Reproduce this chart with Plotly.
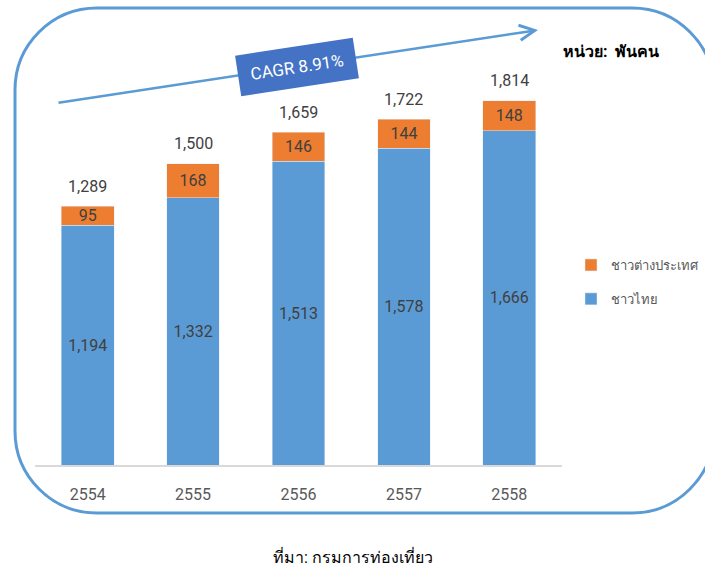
import plotly.graph_objects as go

years = ["2554", "2555", "2556", "2557", "2558"]
thai = [1194, 1332, 1513, 1578, 1666]
foreign = [95, 168, 146, 144, 148]
totals = [1289, 1500, 1659, 1722, 1814]

W, H = 705, 570
L, R, T, B = 35, 143, 40, 105
pw, ph = W - L - R, H - T - B

def px(x):
    return (x - L) / pw

def py(y):
    return (H - B - y) / ph

BLUE = "#5B9BD5"
ORANGE = "#ED7D31"
FONT = "Roboto, Noto Sans, sans-serif"

fig = go.Figure()
fig.add_trace(go.Bar(
    x=years, y=thai, name="ชาวไทย", marker_color=BLUE, legendgroup="thai", legendrank=2,
    text=[f"{v:,}" for v in thai], textposition="inside", insidetextanchor="middle",
    textfont=dict(size=16, color="#404040", family=FONT), textangle=0,
))
fig.add_trace(go.Bar(
    x=years, y=foreign, name="ชาวต่างประเทศ", marker_color=ORANGE, legendgroup="foreign",
    legendrank=1,
    text=[f"{v:,}" for v in foreign], textposition="inside", insidetextanchor="middle",
    textfont=dict(size=16, color="#404040", family=FONT), textangle=0,
))

annotations = []
for i, tot in enumerate(totals):
    annotations.append(dict(x=i, y=tot, xref="x", yref="y", text=f"{tot:,}",
                            showarrow=False, yshift=20, yanchor="middle",
                            font=dict(size=16, color="#404040", family=FONT)))

# arrow
annotations.append(dict(x=px(538), y=py(30), xref="paper", yref="paper",
                        ax=57 - 538, ay=103 - 30, axref="pixel", ayref="pixel",
                        showarrow=True, arrowhead=5, arrowsize=1.2, arrowwidth=2.5,
                        arrowcolor=BLUE, text=""))
# CAGR box
annotations.append(dict(x=px(297), y=py(67), xref="paper", yref="paper",
                        xanchor="center", yanchor="middle",
                        text="CAGR 8.91%", showarrow=False, textangle=-8.6,
                        bgcolor="#4472C4", borderpad=10, width=98, height=20,
                        font=dict(size=17, color="white", family=FONT)))
# unit
annotations.append(dict(x=px(561), y=py(52), xref="paper", yref="paper",
                        xanchor="left", yanchor="middle",
                        text="<b>หน่วย:  พันคน</b>", showarrow=False,
                        font=dict(size=16, color="#000000", family=FONT)))
# source
annotations.append(dict(x=px(353), y=py(556), xref="paper", yref="paper",
                        xanchor="center", yanchor="middle",
                        text="ที่มา: กรมการท่องเที่ยว", showarrow=False,
                        font=dict(size=16, color="#000000", family=FONT)))

# rounded rectangle border (cubic corners)
def rounded(xa, xb, ya, yb, r):
    a0, a1, b0, b1 = px(xa), px(xb), py(ya), py(yb)
    rx, ry = r / pw, r / ph
    k = 0.4477
    return (f"M {a0+rx},{b0} L {a1-rx},{b0} "
            f"C {a1-rx*k},{b0} {a1},{b0-ry*k} {a1},{b0-ry} "
            f"L {a1},{b1+ry} "
            f"C {a1},{b1+ry*k} {a1-rx*k},{b1} {a1-rx},{b1} "
            f"L {a0+rx},{b1} "
            f"C {a0+rx*k},{b1} {a0},{b1+ry*k} {a0},{b1+ry} "
            f"L {a0},{b0-ry} "
            f"C {a0},{b0-ry*k} {a0+rx*k},{b0} {a0+rx},{b0} Z")

path = rounded(15, 714, 8, 513, 82)

fig.update_layout(
    width=W, height=H,
    margin=dict(l=L, r=R, t=T, b=B, autoexpand=False),
    barmode="stack", bargap=0.5,
    plot_bgcolor="white", paper_bgcolor="white",
    font=dict(family=FONT),
    uniformtext=dict(minsize=16, mode="show"),
    annotations=annotations,
    shapes=[dict(type="path", path=path, xref="paper", yref="paper",
                 line=dict(color=BLUE, width=3), layer="below")],
    legend=dict(x=px(571), y=py(250), xanchor="left", yanchor="top",
                traceorder="grouped", font=dict(size=13, color="#595959", family=FONT),
                itemwidth=30, tracegroupgap=14, bgcolor="rgba(0,0,0,0)"),
    xaxis=dict(type="category", range=[-0.5, len(years) - 0.5],
               showline=True, linecolor="#D9D9D9", linewidth=2,
               showgrid=False, ticks="",
               tickfont=dict(size=16, color="#595959", family=FONT),
               ticklabelstandoff=14),
    yaxis=dict(range=[0, ph / 0.2007], visible=False, showgrid=False),
)

fig.write_html("out.html", config={"displayModeBar": False},
               post_script="document.body.style.margin='0';")
